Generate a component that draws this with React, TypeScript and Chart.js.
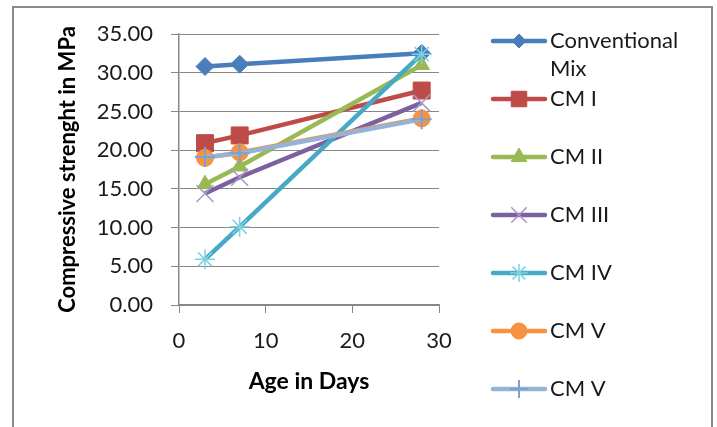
import React, { useEffect, useRef } from 'react';
import { Chart, registerables } from 'chart.js';
import { drawPoint } from 'chart.js/helpers';

Chart.register(...registerables);

// ---- data ----
const ages = [3, 7, 28];
const seriesNames = ['Conventional Mix', 'CM I', 'CM II', 'CM III', 'CM IV', 'CM V', 'CM V'];
const conventionalMix = [30.8, 31.1, 32.5];
const cm1 = [20.9, 21.9, 27.7];
const cm2 = [15.6, 17.9, 31.0];
const cm3 = [14.4, 16.5, 26.1];
const cm4 = [5.9, 10.1, 32.4];
const cm5 = [19.0, 19.7, 24.1];
const cm5b = [19.1, 19.6, 24.0];
const seriesValues = [conventionalMix, cm1, cm2, cm3, cm4, cm5, cm5b];
const xTitle = 'Age in Days';
const yTitle = 'Compressive strenght in MPa';

// ---- styles ----
const lineColors = ['#4A7EBB', '#BE4B48', '#98B954', '#7D60A0', '#46AAC5', '#F69240', '#95B3D7'];
const markerBorder = ['#4A7EBB', '#BE4B48', '#98B954', '#A897C8', '#7FD0E3', '#F69240', '#7F9FCF'];
const markerStyles = ['rectRot', 'rect', 'triangle', 'crossRot', 'star', 'circle', 'cross'];
const markerRadius = [9, 12, 9, 12, 10, 8.5, 10];
const legendRadius = [7, 11, 9, 11, 9, 8, 9];
const markerBorderWidth = [1, 1, 1, 1.5, 1.5, 1, 2];
const FONT = 'Lato, "Open Sans", sans-serif';
const GRID = '#878787';

const borderPlugin = {
  id: 'frame',
  beforeDraw(chart: any) {
    const ctx = chart.ctx;
    ctx.save();
    ctx.fillStyle = '#ffffff';
    ctx.fillRect(0, 0, chart.width, chart.height);
    ctx.strokeStyle = '#8a8a8a';
    ctx.lineWidth = 2;
    ctx.beginPath();
    ctx.moveTo(13, 427);
    ctx.lineTo(13, 7);
    ctx.lineTo(712, 7);
    ctx.lineTo(712, 427);
    ctx.stroke();
    ctx.restore();
  },
};

const legendPlugin = {
  id: 'sideLegend',
  afterDraw(chart: any) {
    const ctx = chart.ctx;
    const x0 = 493;
    const x1 = 545;
    const tx = 550;
    const y0 = 41;
    const step = 58;
    const lineH = 28;
    const maxW = 145;
    ctx.save();
    ctx.font = `22px ${FONT}`;
    chart.data.datasets.forEach((ds: any, i: number) => {
      const y = y0 + i * step;
      ctx.strokeStyle = ds.borderColor;
      ctx.lineWidth = ds.borderWidth;
      ctx.lineCap = 'round';
      ctx.beginPath();
      ctx.moveTo(x0, y);
      ctx.lineTo(x1, y);
      ctx.stroke();
      ctx.lineCap = 'butt';
      ctx.save();
      ctx.fillStyle = ds.pointBackgroundColor;
      ctx.strokeStyle = ds.pointBorderColor;
      ctx.lineWidth = ds.pointBorderWidth;
      drawPoint(ctx, {
        pointStyle: ds.pointStyle,
        radius: legendRadius[i],
        borderWidth: ds.pointBorderWidth,
        rotation: 0,
      }, (x0 + x1) / 2, y);
      ctx.restore();
      // text with word wrap
      const words = String(ds.label).split(' ');
      const lines: string[] = [];
      let cur = '';
      words.forEach((w) => {
        const test = cur ? cur + ' ' + w : w;
        if (ctx.measureText(test).width > maxW && cur) {
          lines.push(cur);
          cur = w;
        } else cur = test;
      });
      if (cur) lines.push(cur);
      ctx.fillStyle = '#1a1a1a';
      ctx.textAlign = 'left';
      ctx.textBaseline = 'middle';
      lines.forEach((l, k) => ctx.fillText(l, tx, y + k * lineH));
    });
    ctx.restore();
  },
};

export default function App() {
  const ref = useRef<HTMLCanvasElement | null>(null);
  useEffect(() => {
    if (!ref.current) return;
    const datasets = seriesValues.map((vals, i) => ({
      label: seriesNames[i],
      data: ages.map((a, j) => ({ x: a, y: vals[j] })),
      borderColor: lineColors[i],
      backgroundColor: lineColors[i],
      borderWidth: 4.5,
      pointStyle: markerStyles[i],
      pointRadius: markerRadius[i],
      pointBackgroundColor: lineColors[i],
      pointBorderColor: markerBorder[i],
      pointBorderWidth: markerBorderWidth[i],
      order: seriesValues.length - i,
      tension: 0,
    }));
    const chart = new Chart(ref.current, {
      type: 'line',
      data: { datasets },
      plugins: [borderPlugin, legendPlugin],
      options: {
        animation: false,
        responsive: false,
        layout: { padding: { left: 0, right: 278, top: 34, bottom: 0 } },
        plugins: { legend: { display: false }, tooltip: { enabled: false } },
        scales: {
          x: {
            type: 'linear',
            min: 0,
            max: 30,
            ticks: { stepSize: 10, padding: 15, color: '#1a1a1a', font: { family: FONT, size: 22 } },
            grid: { drawOnChartArea: false, drawTicks: true, tickLength: 8, color: GRID },
            border: { color: GRID, width: 1.5 },
            title: { display: true, text: xTitle, color: '#000', font: { family: FONT, size: 23, weight: 'bold' }, padding: { top: 0, bottom: 32 } },
            afterFit: (s: any) => { s.height = 122; },
          },
          y: {
            type: 'linear',
            min: 0,
            max: 35,
            ticks: { stepSize: 5, padding: 18, color: '#1a1a1a', font: { family: FONT, size: 22 }, callback: (v: any) => Number(v).toFixed(2) },
            grid: { drawOnChartArea: true, drawTicks: true, tickLength: 8, color: GRID },
            border: { color: GRID, width: 1.5 },
            title: { display: true, text: yTitle, color: '#000', font: { family: FONT, size: 22, weight: 'bold' }, padding: { top: 55, bottom: 0 } },
            afterFit: (s: any) => { s.width = 179; },
          },
        },
      } as any,
    });
    return () => chart.destroy();
  }, []);
  return (
    <div style={{ position: 'fixed', left: 0, top: 0, width: 717, height: 427 }}>
      <canvas ref={ref} width={717} height={427} />
    </div>
  );
}
